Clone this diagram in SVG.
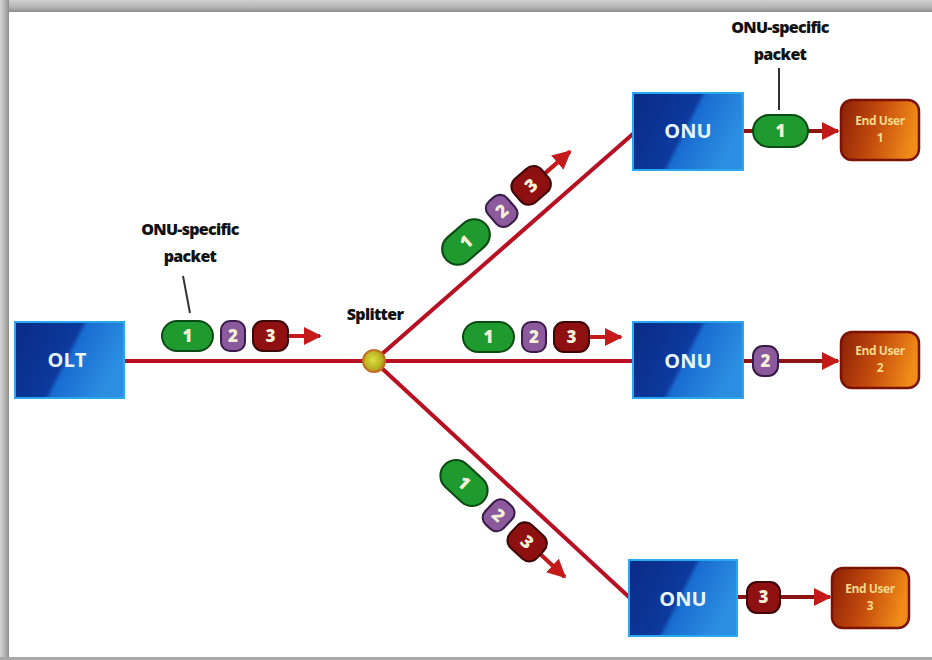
<svg xmlns="http://www.w3.org/2000/svg" width="932" height="660" viewBox="0 0 932 660">
<defs>
<style>
.lbl{font-family:"Open Sans","Liberation Sans",sans-serif;font-weight:800;font-size:16px;fill:#111;text-anchor:middle;letter-spacing:-0.7px}
.box{font-family:"Open Sans","Liberation Sans",sans-serif;font-weight:700;font-size:20px;fill:#e6f6ff;text-anchor:middle}
.eu{font-family:"Open Sans","Liberation Sans",sans-serif;font-weight:700;font-size:12px;fill:#f6d98a;text-anchor:middle;letter-spacing:-0.4px}
.num{font-family:"Open Sans","Liberation Sans",sans-serif;font-weight:800;font-size:17px;fill:#f4f0d8;text-anchor:middle}
.fiber{stroke:#b80f22;stroke-width:4;fill:none}
.drop{stroke:#8c1414;stroke-width:4;fill:none}
.lead{stroke:#333;stroke-width:2;fill:none}
.green{fill:#1f9a2e;stroke:#0b4a12;stroke-width:2}
.purple{fill:#8a5a9c;stroke:#3a1a48;stroke-width:2}
.red{fill:#8e1010;stroke:#3e0606;stroke-width:2}
.onu{fill:url(#blue);stroke:#28a8ee;stroke-width:2}
.user{fill:url(#orange);stroke:#7a1206;stroke-width:2.5}
</style>
<linearGradient id="blue" x1="0" y1="0" x2="1" y2="0.35">
<stop offset="0" stop-color="#0a2a86"/>
<stop offset="0.55" stop-color="#0c3a9e"/>
<stop offset="0.6" stop-color="#1a6cd0"/>
<stop offset="1" stop-color="#2b8ee2"/>
</linearGradient>
<linearGradient id="orange" x1="0" y1="0" x2="1" y2="0.2">
<stop offset="0" stop-color="#8c2006"/>
<stop offset="0.5" stop-color="#c24a0c"/>
<stop offset="1" stop-color="#f08a18"/>
</linearGradient>
<radialGradient id="spl" cx="0.45" cy="0.45" r="0.6">
<stop offset="0" stop-color="#e0e040"/>
<stop offset="0.7" stop-color="#b8b020"/>
<stop offset="1" stop-color="#c07020"/>
</radialGradient>
<linearGradient id="topband" x1="0" y1="0" x2="0" y2="1">
<stop offset="0" stop-color="#d0d0d0"/>
<stop offset="0.6" stop-color="#b4b4b4"/>
<stop offset="1" stop-color="#8c8c8c"/>
</linearGradient>
<linearGradient id="leftband" x1="0" y1="0" x2="1" y2="0">
<stop offset="0" stop-color="#d4d4d4"/>
<stop offset="0.6" stop-color="#b0b0b0"/>
<stop offset="1" stop-color="#8a8a8a"/>
</linearGradient>
<marker id="ah" viewBox="0 0 10 10" refX="9" refY="5" markerWidth="4.5" markerHeight="4.5" orient="auto" markerUnits="strokeWidth">
<path d="M0,0 L10,5 L0,10 Z" fill="#c41a1a"/>
</marker>
<g id="pkts">
<line x1="126" y1="0" x2="158" y2="0" stroke="#c41a1a" stroke-width="4" marker-end="url(#ah)"/>
<rect class="green" x="0" y="-15" width="51" height="30" rx="15"/>
<text class="num" x="25.5" y="6">1</text>
<rect class="purple" x="59" y="-15" width="24" height="30" rx="9"/>
<text class="num" x="71" y="6">2</text>
<rect class="red" x="91" y="-15" width="35" height="30" rx="10"/>
<text class="num" x="108.5" y="6">3</text>
</g>
</defs>
<rect x="0" y="0" width="932" height="660" fill="#ffffff"/>
<rect x="0" y="0" width="932" height="12" fill="url(#topband)"/>
<rect x="0" y="0" width="9" height="660" fill="url(#leftband)"/>
<rect x="0" y="657" width="932" height="3" fill="#a8a8a8"/>

<g id="connectors">
<line class="fiber" x1="124" y1="361" x2="374" y2="361"/>
<line class="fiber" x1="374" y1="361" x2="634" y2="133"/>
<line class="fiber" x1="374" y1="361" x2="634" y2="361"/>
<line class="fiber" x1="374" y1="361" x2="630" y2="598"/>
<line class="drop" x1="743" y1="131" x2="838" y2="131" marker-end="url(#ah)"/>
<line class="drop" x1="743" y1="361" x2="838" y2="361" marker-end="url(#ah)"/>
<line class="drop" x1="737" y1="597" x2="830" y2="597" marker-end="url(#ah)"/>
<line class="lead" x1="183" y1="276" x2="190" y2="313"/>
<line class="lead" x1="779" y1="68" x2="779" y2="110"/>
</g>

<g id="packets">
<use href="#pkts" transform="translate(162,336)"/>
<use href="#pkts" transform="translate(463,337)"/>
<use href="#pkts" transform="translate(466,242) rotate(-41) scale(1.04) translate(-25.5,0)"/>
<use href="#pkts" transform="translate(464,483) rotate(43) scale(1.04) translate(-25.5,0)"/>
<rect class="green" x="753" y="115" width="55" height="32" rx="16"/>
<text class="num" x="780.5" y="137">1</text>
<rect class="purple" x="753" y="346" width="25" height="30" rx="10"/>
<text class="num" x="765.5" y="367">2</text>
<rect class="red" x="747" y="582" width="33" height="31" rx="10"/>
<text class="num" x="763.5" y="603">3</text>
</g>

<g id="olt">
<rect class="onu" x="15" y="322" width="109" height="76"/>
<text class="box" x="67" y="367">OLT</text>
</g>
<g id="splitter">
<circle cx="374" cy="361" r="11" fill="url(#spl)" stroke="#c07020" stroke-width="2"/>
<text class="lbl" x="375" y="320">Splitter</text>
</g>
<g id="onu1">
<rect class="onu" x="633" y="93" width="110" height="77"/>
<text class="box" x="688" y="138">ONU</text>
</g>
<g id="onu2">
<rect class="onu" x="633" y="322" width="110" height="76"/>
<text class="box" x="688" y="368">ONU</text>
</g>
<g id="onu3">
<rect class="onu" x="629" y="560" width="108" height="76"/>
<text class="box" x="683" y="606">ONU</text>
</g>
<g id="user1">
<rect class="user" x="841" y="100" width="78" height="60" rx="11"/>
<text class="eu" x="880" y="125">End User</text>
<text class="eu" x="880" y="142">1</text>
</g>
<g id="user2">
<rect class="user" x="841" y="332" width="78" height="56" rx="11"/>
<text class="eu" x="880" y="355">End User</text>
<text class="eu" x="880" y="372">2</text>
</g>
<g id="user3">
<rect class="user" x="832" y="568" width="77" height="60" rx="11"/>
<text class="eu" x="870" y="593">End User</text>
<text class="eu" x="870" y="610">3</text>
</g>
<g id="label-left">
<text class="lbl" x="190" y="235">ONU-specific</text>
<text class="lbl" x="190" y="262">packet</text>
</g>
<g id="label-top">
<text class="lbl" x="780" y="33">ONU-specific</text>
<text class="lbl" x="780" y="60">packet</text>
</g>
</svg>
